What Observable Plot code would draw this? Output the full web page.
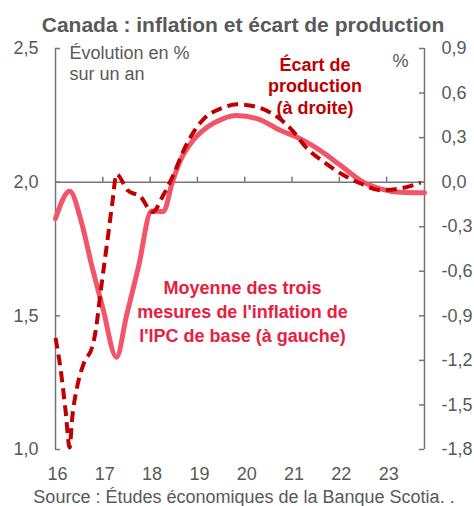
<!DOCTYPE html>
<html>
<head>
<meta charset="utf-8">
<script src="https://cdn.jsdelivr.net/npm/d3@7"></script>
<script src="https://cdn.jsdelivr.net/npm/@observablehq/plot@0.6"></script>
<style>
  html, body { margin: 0; padding: 0; background: #ffffff; }
  #chart { width: 474px; height: 506px; }
</style>
</head>
<body>
<div id="chart"></div>
<script>
// ---- Data ----
const titleText = "Canada : inflation et écart de production";
const sourceText = "Source : Études économiques de la Banque Scotia. .";

// Core inflation (left axis, % y/y)
const inflYears = [2016.00, 2016.30, 2016.55, 2016.75, 2017.00, 2017.29, 2017.50, 2017.75, 2018.03, 2018.28,
  2018.47, 2018.64, 2018.85, 2019.21, 2019.55, 2019.81, 2020.26, 2020.76, 2021.18, 2021.60,
  2022.03, 2022.45, 2022.87, 2023.29, 2023.80];
const inflValues = [1.864, 1.966, 1.849, 1.70, 1.53, 1.345, 1.50, 1.68, 1.892, 1.890,
  2.000, 2.081, 2.143, 2.206, 2.238, 2.249, 2.238, 2.193, 2.162, 2.118,
  2.062, 2.006, 1.975, 1.962, 1.960];

// Output gap (right axis, %)
const gapYears = [2016.00, 2016.11, 2016.21, 2016.30, 2016.35, 2016.46, 2016.60, 2016.78, 2016.85, 2016.95,
  2017.09, 2017.20, 2017.29, 2017.52, 2017.80, 2018.05, 2018.28, 2018.49, 2018.71, 2018.92,
  2019.14, 2019.49, 2019.84, 2020.26, 2020.69, 2020.97, 2021.32, 2021.67, 2022.03, 2022.45,
  2022.87, 2023.29, 2023.72];
const gapValues = [-1.048, -1.263, -1.531, -1.786, -1.598, -1.375, -1.218, -1.106, -1.00, -0.747,
  -0.412, -0.143, 0.054, -0.054, -0.099, -0.201, -0.087, 0.047, 0.215, 0.338,
  0.428, 0.495, 0.524, 0.506, 0.439, 0.361, 0.226, 0.136, 0.058, -0.009,
  -0.054, -0.042, -0.003];

const leftTicks = [1.0, 1.5, 2.0, 2.5];
const rightTicks = [-1.8, -1.5, -1.2, -0.9, -0.6, -0.3, 0.0, 0.3, 0.6, 0.9];
const xTickYears = [2016, 2017, 2018, 2019, 2020, 2021, 2022, 2023];
const xTickLabels = ["16", "17", "18", "19", "20", "21", "22", "23"];

// ---- Scales / helpers ----
const leftDomain = [1.0, 2.5];
const rightDomain = [-1.8, 0.9];
const xDomain = [2016, 2023.8];
const toLeft = r => leftDomain[0] + (r - rightDomain[0]) * (leftDomain[1] - leftDomain[0]) / (rightDomain[1] - rightDomain[0]);
const fromLeft = v => rightDomain[0] + (v - leftDomain[0]) * (rightDomain[1] - rightDomain[0]) / (leftDomain[1] - leftDomain[0]);
const fmt = v => (Math.round(v * 10) / 10).toFixed(1).replace(".", ",");

const inflData = inflYears.map((t, i) => ({t, v: inflValues[i]}));
const gapData = gapYears.map((t, i) => ({t, v: toLeft(gapValues[i])}));

const W = 474, H = 506;
const mTop = 48, mBottom = 57, mLeft = 55, mRight = 50;
const plotW = W - mLeft - mRight, plotH = H - mTop - mBottom;
const tickLen = 5;
const zeroFrac = (leftDomain[1] - 2.0) / (leftDomain[1] - leftDomain[0]);

const gray = "#595959";
const axisGray = "#767676";
const darkRed = "#C00000";
const pinkRed = "#F2546A";
const pinkText = "#E8203F";

const chart = Plot.plot({
  width: W,
  height: H,
  marginTop: mTop,
  marginBottom: mBottom,
  marginLeft: mLeft,
  marginRight: mRight,
  style: {fontFamily: "'Liberation Sans', Arial, sans-serif", fontSize: "18px", background: "#ffffff", overflow: "visible"},
  x: {domain: xDomain, label: null},
  y: {domain: leftDomain, label: null},
  marks: [
    // horizontal line at 2,0 / 0,0
    Plot.ruleY([2.0], {stroke: axisGray, strokeWidth: 1.5}),
    // year ticks pointing up from the 2,0 line
    Plot.tickX(xTickYears.slice(1), {x: d => d, stroke: axisGray, strokeWidth: 1.5,
      insetTop: plotH * zeroFrac - tickLen, insetBottom: plotH * (1 - zeroFrac)}),
    // left and right axis lines
    Plot.ruleX([xDomain[0]], {stroke: axisGray, strokeWidth: 1.5}),
    Plot.ruleX([xDomain[1]], {stroke: axisGray, strokeWidth: 1.5}),
    // inward tick marks
    Plot.tickY(leftTicks, {y: d => d, stroke: axisGray, strokeWidth: 1.5, insetRight: plotW - tickLen}),
    Plot.tickY(rightTicks.map(toLeft), {y: d => d, stroke: axisGray, strokeWidth: 1.5, insetLeft: plotW - tickLen}),
    // axes labels
    Plot.axisY(leftTicks, {anchor: "left", label: null, tickSize: 0, tickPadding: 17, fill: gray, tickFormat: fmt, fontSize: 18}),
    Plot.axisY(rightTicks.map(toLeft), {anchor: "right", label: null, tickSize: 0, tickPadding: 17, fill: gray,
      tickFormat: d => fmt(fromLeft(d)), fontSize: 18}),
    Plot.axisX(xTickYears, {anchor: "bottom", label: null, tickSize: 0, tickPadding: 18, dx: 2, fill: gray,
      tickFormat: (d, i) => xTickLabels[i], fontSize: 18}),
    // data lines
    Plot.line(inflData, {x: "t", y: "v", stroke: pinkRed, strokeWidth: 5, curve: "monotone-x"}),
    Plot.line(gapData, {x: "t", y: "v", stroke: darkRed, strokeWidth: 4, curve: "monotone-x",
      strokeDasharray: "11,6", strokeLinecap: "butt"}),
    // texts
    Plot.text([titleText], {frameAnchor: "top", dx: 3, dy: -16.5, lineAnchor: "bottom",
      fontSize: 21, fontWeight: "bold", fill: gray}),
    Plot.text(["Évolution en %\nsur un an"], {frameAnchor: "top-left", textAnchor: "start", dx: 14, dy: 31.3,
      lineAnchor: "bottom", lineHeight: 1.17, fontSize: 18, fill: gray}),
    Plot.text(["%"], {frameAnchor: "top-right", textAnchor: "start", dx: -32, dy: 18.7,
      lineAnchor: "bottom", fontSize: 18, fill: gray}),
    Plot.text(["Écart de\nproduction\n(à droite)"], {frameAnchor: "top-left", textAnchor: "middle", dx: 259.5, dy: 65,
      lineAnchor: "bottom", lineHeight: 1.19, fontSize: 18, fontWeight: "bold", fill: darkRed}),
    Plot.text(["Moyenne des trois\nmesures de l'inflation de\nl'IPC de base (à gauche)"], {frameAnchor: "top-left",
      textAnchor: "middle", dx: 187, dy: 293, lineAnchor: "bottom", lineHeight: 1.32, fontSize: 18,
      fontWeight: "bold", fill: pinkText}),
    Plot.text([sourceText], {frameAnchor: "bottom", dx: 4, dy: 53, lineAnchor: "bottom", fontSize: 18, fill: gray})
  ]
});

document.getElementById("chart").appendChild(chart);
</script>
</body>
</html>
